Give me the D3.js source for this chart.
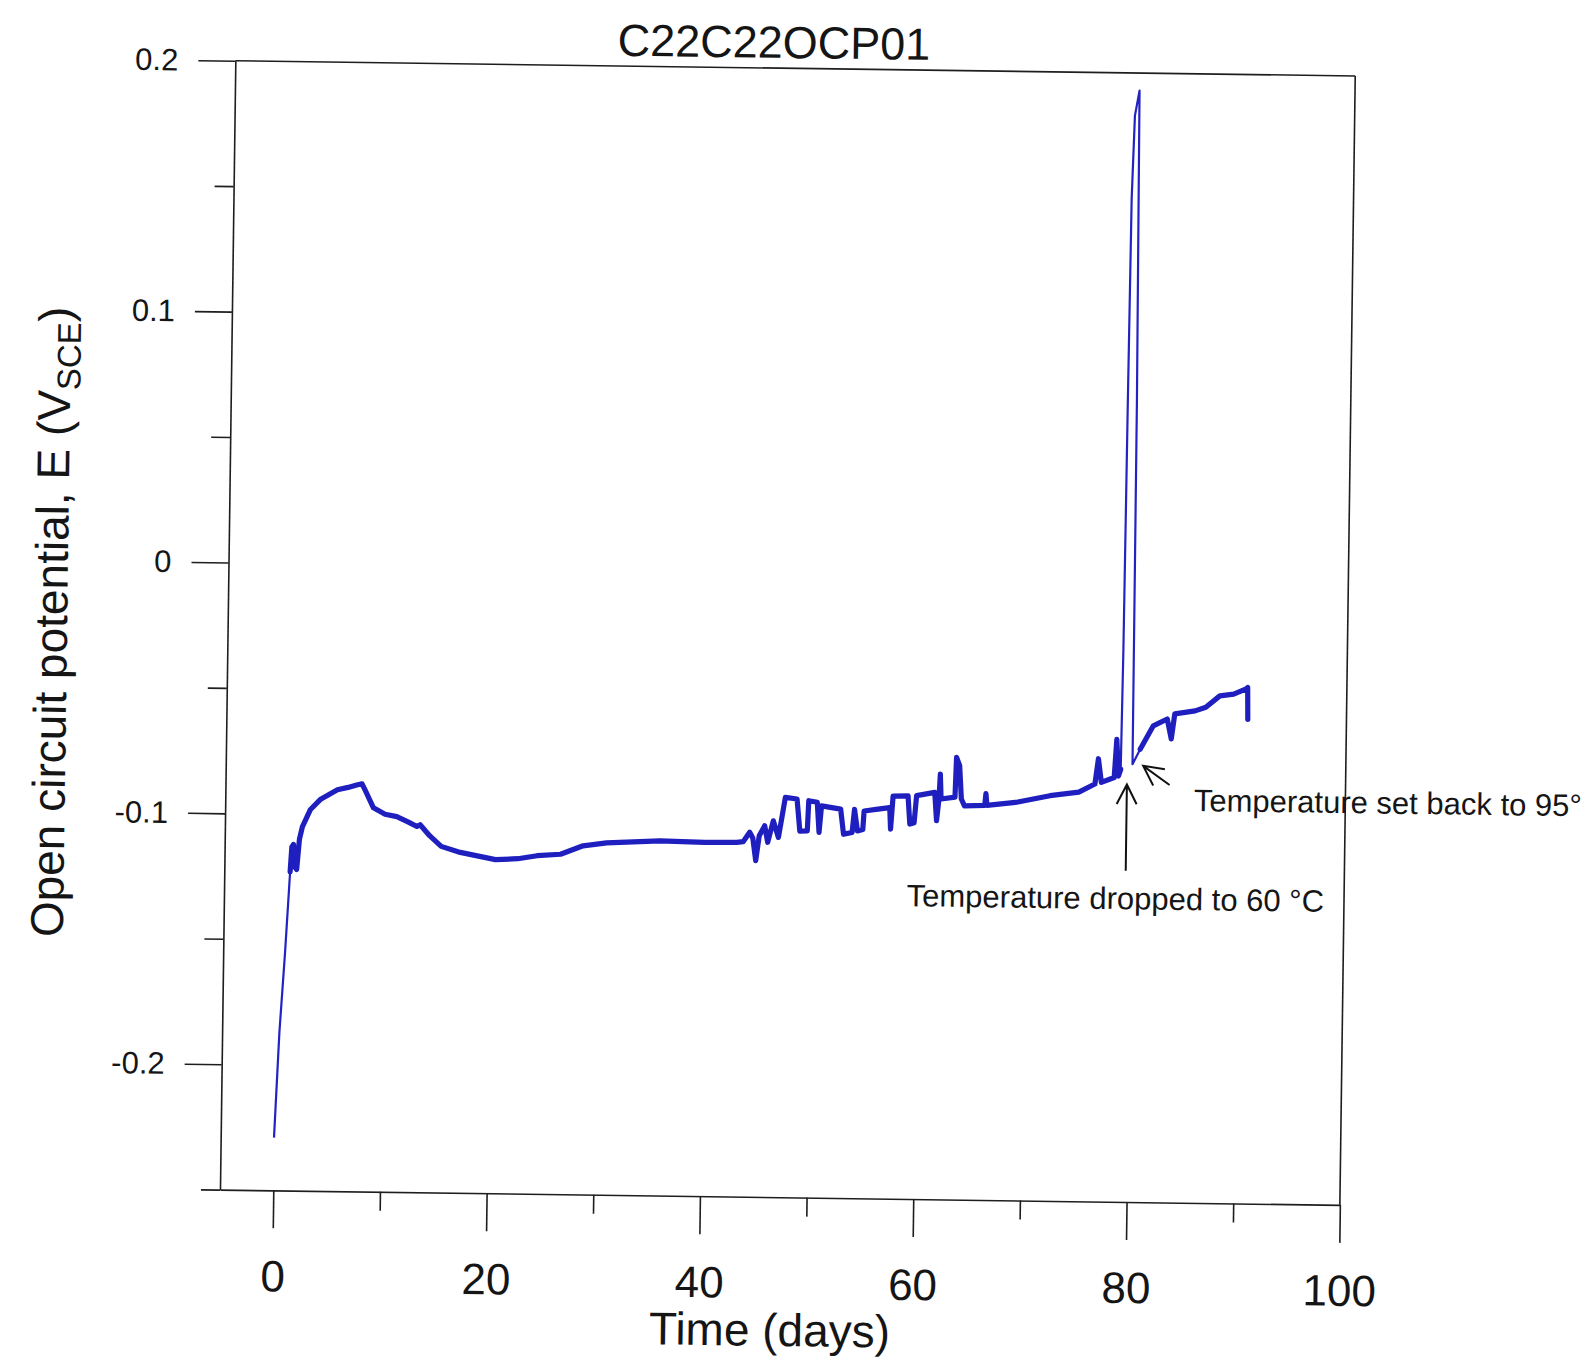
<!DOCTYPE html>
<html>
<head>
<meta charset="utf-8">
<script src="https://cdn.jsdelivr.net/npm/d3@7"></script>
<style>
  body { margin: 0; background: #fff; }
  svg text { font-family: "Liberation Sans", Arial, sans-serif; fill: #151515; }
</style>
</head>
<body>
<div id="chart"></div>
<script>
// open circuit potential record
var days = [0.0, 0.37, 0.8, 1.17, 1.3, 1.45, 1.6, 1.78, 2.0, 2.26, 3.0, 3.9, 5.5, 6.5, 7.3, 7.8, 8.1, 8.9,
  10.0, 11.1, 12.2, 13.0, 13.3, 14.2, 15.3, 17.1, 20.4, 22.5, 24.3, 26.5, 28.6, 30.8, 35.8, 40.0, 43.0,
  43.6, 44.2, 44.5, 44.8, 45.1, 45.6, 45.9, 46.4, 46.9, 47.2, 47.5, 48.6, 48.9, 49.6, 49.7, 50.5, 50.7,
  50.9, 52.7, 53.0, 53.8, 54.0, 54.3, 54.8, 54.9, 56.2, 57.3, 57.4, 57.6, 59.0, 59.2, 59.6, 59.8, 61.5,
  61.7, 61.9, 62.0, 62.1, 63.4, 63.5, 63.8, 64.0, 64.3, 66.2, 66.3, 66.4, 69.3, 72.3, 75.0, 76.5, 76.8,
  77.1, 78.3, 78.5, 78.7, 78.9, 79.0, 79.1, 79.2, 79.4, 79.8, 79.95, 80.0, 80.7, 81.9, 83.2, 83.6, 83.9,
  85.8, 86.8, 88.1, 89.4, 90.5, 90.7, 90.75];
var potential = [-0.229, -0.187, -0.155, -0.123, -0.113, -0.112, -0.121, -0.122, -0.110, -0.105, -0.098,
  -0.094, -0.090, -0.089, -0.088, -0.0875, -0.090, -0.097, -0.0995, -0.1004, -0.1025, -0.1042, -0.1035,
  -0.1078, -0.112, -0.1143, -0.117, -0.1165, -0.1152, -0.1145, -0.111, -0.1097, -0.1086, -0.109, -0.1088,
  -0.1085, -0.1047, -0.107, -0.116, -0.106, -0.102, -0.1086, -0.100, -0.1066, -0.0987, -0.0906, -0.0912,
  -0.104, -0.1038, -0.0918, -0.0924, -0.1044, -0.0938, -0.095, -0.105, -0.1042, -0.095, -0.1036, -0.103,
  -0.0956, -0.0948, -0.0941, -0.1027, -0.0895, -0.0893, -0.1006, -0.100, -0.0892, -0.0878, -0.0991,
  -0.0905, -0.0805, -0.0904, -0.0896, -0.0737, -0.077, -0.0903, -0.093, -0.0927, -0.088, -0.0927,
  -0.0912, -0.0885, -0.0869, -0.0836, -0.0735, -0.0829, -0.0809, -0.0657, -0.0803, -0.0776, -0.030,
  0.070, 0.150, 0.183, 0.193, 0.070, -0.0755, -0.0695, -0.0601, -0.0573, -0.0652, -0.0552, -0.0539,
  -0.0524, -0.0478, -0.047, -0.045, -0.0443, -0.057];

var xMajorTicks = [0, 20, 40, 60, 80, 100];
var xMinorTicks = [10, 30, 50, 70, 90];
var yMajorTicks = [0.2, 0.1, 0, -0.1, -0.2];
var yMinorTicks = [0.15, 0.05, -0.05, -0.15, -0.25];

// stretches where the trace is a single clean stroke (no noise band)
var thinStretches = [[0, 1.1], [78.95, 80.05]];

var notes = [
  {text: "Temperature dropped to 60 °C", label: [59.0, -0.1333], tip: [79.5, -0.0836], tail: [79.5, -0.118]},
  {text: "Temperature set back to 95°", label: [85.8, -0.0938], tip: [81.0, -0.0761], tail: [83.5, -0.0836]}
];

var width = 1592;
var height = 1360;
var frame = {left: 227.6, right: 1347.6, top: 68.3, bottom: 1197.3};
var tilt = 0.78; // the scan is turned slightly clockwise

var svg = d3.select("#chart")
  .append("svg")
  .attr("width", width)
  .attr("height", height);

svg.append("rect").attr("width", width).attr("height", height).attr("fill", "#fff");

var cx = (frame.left + frame.right) / 2;
var cy = (frame.top + frame.bottom) / 2;
var g = svg.append("g").attr("transform", `rotate(${tilt},${cx},${cy})`);

var x = d3.scaleLinear().domain([-5, 100]).range([frame.left, frame.right]);
var y = d3.scaleLinear().domain([-0.25, 0.2]).range([frame.bottom, frame.top]);

var ink = "#1e1e1e";

// frame top & right
g.append("line")
  .attr("x1", x(-5)).attr("x2", x(100)).attr("y1", y(0.2)).attr("y2", y(0.2))
  .attr("stroke", ink).attr("stroke-width", 1.6);
g.append("line")
  .attr("x1", x(100)).attr("x2", x(100)).attr("y1", y(0.2)).attr("y2", y(-0.25))
  .attr("stroke", ink).attr("stroke-width", 1.6);

// Y axis
var yAxis = g.append("g")
  .attr("transform", `translate(${frame.left},0)`)
  .call(d3.axisLeft(y).tickValues(yMajorTicks).tickSize(37).tickSizeOuter(0).tickPadding(20)
    .tickFormat(d => String(d)));
yAxis.selectAll("text").attr("font-size", 31).attr("font-family", null).attr("fill", "#151515");

var yMinor = g.append("g")
  .attr("transform", `translate(${frame.left},0)`)
  .call(d3.axisLeft(y).tickValues(yMinorTicks).tickSize(19).tickSizeOuter(0).tickFormat(""));
yMinor.select(".domain").remove();

// X axis
var xAxis = g.append("g")
  .attr("transform", `translate(0,${frame.bottom})`)
  .call(d3.axisBottom(x).tickValues(xMajorTicks).tickSize(38).tickSizeOuter(0));
xAxis.selectAll("text")
  .attr("y", 101).attr("dy", 0)
  .attr("font-size", 44).attr("font-family", null).attr("fill", "#151515");

var xMinor = g.append("g")
  .attr("transform", `translate(0,${frame.bottom})`)
  .call(d3.axisBottom(x).tickValues(xMinorTicks).tickSize(19).tickSizeOuter(0).tickFormat(""));
xMinor.select(".domain").remove();

g.selectAll(".domain, .tick line").attr("stroke", ink).attr("stroke-width", 1.6);

// trace
var points = days.map((d, i) => [d, potential[i]]);
var isThin = d => thinStretches.some(r => d[0] >= r[0] && d[0] <= r[1]);

var line = d3.line().x(d => x(d[0])).y(d => y(d[1]));

g.append("path")
  .datum(points)
  .attr("d", line)
  .attr("fill", "none")
  .attr("stroke", "#2323c4")
  .attr("stroke-width", 2.2)
  .attr("stroke-linejoin", "round");

g.append("path")
  .datum(points)
  .attr("d", d3.line().defined(d => !isThin(d)).x(d => x(d[0])).y(d => y(d[1])))
  .attr("fill", "none")
  .attr("stroke", "#1f1fbf")
  .attr("stroke-width", 5.2)
  .attr("stroke-linejoin", "round")
  .attr("stroke-linecap", "round");

// annotations with open arrows
notes.forEach(n => {
  var x1 = x(n.tail[0]), y1 = y(n.tail[1]);
  var x2 = x(n.tip[0]), y2 = y(n.tip[1]);
  var a = Math.atan2(y2 - y1, x2 - x1);
  var len = 22, spread = 0.47;
  var w1 = [x2 - len * Math.cos(a - spread), y2 - len * Math.sin(a - spread)];
  var w2 = [x2 - len * Math.cos(a + spread), y2 - len * Math.sin(a + spread)];
  g.append("path")
    .attr("d", `M${x1},${y1}L${x2},${y2}M${w1[0]},${w1[1]}L${x2},${y2}L${w2[0]},${w2[1]}`)
    .attr("fill", "none")
    .attr("stroke", "#111")
    .attr("stroke-width", 2);
  g.append("text")
    .attr("x", x(n.label[0]))
    .attr("y", y(n.label[1]))
    .attr("font-size", 31)
    .text(n.text);
});

// title
g.append("text")
  .attr("x", 766)
  .attr("y", 58)
  .attr("text-anchor", "middle")
  .attr("font-size", 45)
  .text("C22C22OCP01");

// x axis title
g.append("text")
  .attr("x", 779)
  .attr("y", 1346)
  .attr("text-anchor", "middle")
  .attr("font-size", 46)
  .text("Time (days)");

// y axis title
var yTitle = g.append("text")
  .attr("transform", "translate(67,632) rotate(-90)")
  .attr("text-anchor", "middle")
  .attr("font-size", 46);
yTitle.append("tspan").text("Open circuit potential, E (V");
yTitle.append("tspan").attr("font-size", 33).attr("dy", 10).text("SCE");
yTitle.append("tspan").attr("dy", -10).text(")");
</script>
</body>
</html>
